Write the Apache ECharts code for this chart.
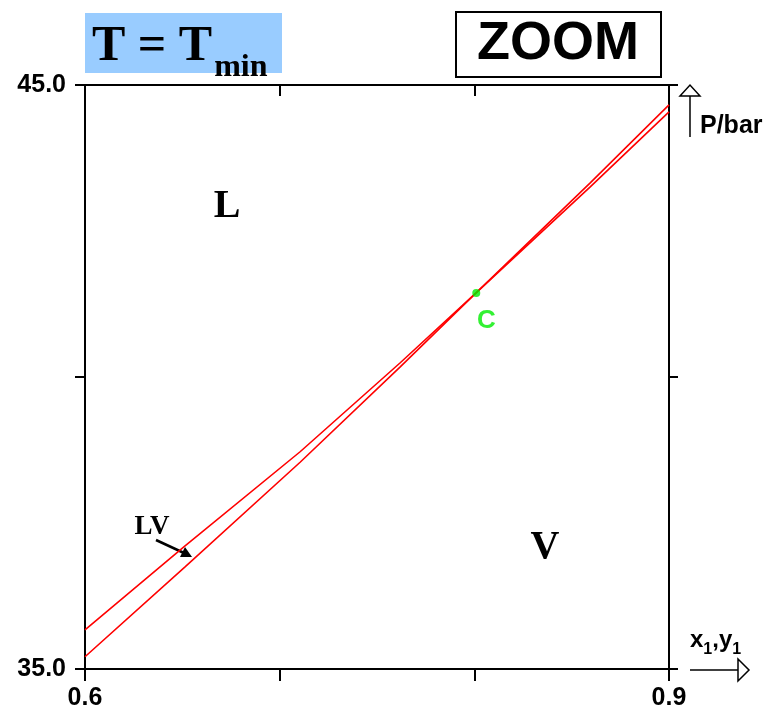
<!DOCTYPE html>
<html>
<head>
<meta charset="utf-8">
<script src="https://cdn.jsdelivr.net/npm/echarts@6/dist/echarts.min.js"></script>
<style>
  html, body { margin: 0; padding: 0; background: #fff; }
  #main { width: 768px; height: 713px; }
</style>
</head>
<body>
<div id="main"></div>
<script>
// upper branch (liquid side) and lower branch (vapour side)
const upperX = [0.600, 0.6514, 0.7105, 0.7618, 0.8009, 0.8594, 0.900]
const upperP = [35.67, 37.11, 38.72, 40.24, 41.44, 43.32, 44.66]
const lowerX = [0.600, 0.6514, 0.7105, 0.7618, 0.8009, 0.8594, 0.900]
const lowerP = [35.21, 36.75, 38.54, 40.17, 41.44, 43.25, 44.54]
const critical = [0.801, 41.44]
const xTickLabels = ['0.6', '0.9']
const yTickLabels = ['35.0', '45.0']

const chart = echarts.init(document.getElementById('main'))

const zip = (xs, ys) => xs.map((x, i) => [x, ys[i]])
const fmtX = (v) => {
    const s = v.toFixed(1)
    return xTickLabels.includes(s) ? s : ''
}
const fmtY = (v) => {
    const s = v.toFixed(1)
    return yTickLabels.includes(s) ? s : ''
}

const axisLine = { show: true, onZero: false, lineStyle: { color: '#000', width: 2 } }
const tickStyle = { color: '#000', width: 2 }
const labelFont = { color: '#000', fontFamily: 'Liberation Sans', fontWeight: 'bold', fontSize: 25 }

const option = {
    animation: false,
    backgroundColor: '#fff',
    grid: { left: 85, top: 85, right: 99, bottom: 44, containLabel: false },
    xAxis: [
        {
            type: 'value', position: 'bottom', min: 0.6, max: 0.9, interval: 0.1,
            axisLine: axisLine,
            axisTick: { show: true, inside: false, length: 12, lineStyle: tickStyle },
            axisLabel: Object.assign({ formatter: fmtX, margin: 17 }, labelFont),
            splitLine: { show: false }
        },
        {
            type: 'value', position: 'top', min: 0.6, max: 0.9, interval: 0.1,
            axisLine: axisLine,
            axisTick: { show: true, inside: true, length: 11, lineStyle: tickStyle },
            axisLabel: { show: false },
            splitLine: { show: false }
        }
    ],
    yAxis: [
        {
            type: 'value', position: 'left', min: 35, max: 45, interval: 5,
            axisLine: axisLine,
            axisTick: { show: true, inside: false, length: 10, lineStyle: tickStyle },
            axisLabel: Object.assign({ formatter: fmtY, margin: 19 }, labelFont),
            splitLine: { show: false }
        },
        {
            type: 'value', position: 'right', min: 35, max: 45, interval: 5,
            axisLine: axisLine,
            axisTick: { show: true, inside: false, length: 9, lineStyle: tickStyle },
            axisLabel: { show: false },
            splitLine: { show: false }
        }
    ],
    series: [
        {
            type: 'line', data: zip(upperX, upperP), showSymbol: false,
            lineStyle: { color: '#ff0000', width: 1.6 }
        },
        {
            type: 'line', data: zip(lowerX, lowerP), showSymbol: false,
            lineStyle: { color: '#ff0000', width: 1.6 }
        },
        {
            type: 'scatter', data: [critical], symbolSize: 8, z: 5,
            itemStyle: { color: '#00ee00' },
            label: {
                show: true, formatter: 'C', position: 'bottom', offset: [10, 6],
                color: '#00ee00', fontFamily: 'Liberation Sans', fontWeight: 'bold', fontSize: 26
            }
        }
    ],
    graphic: [
        // T = Tmin box
        { type: 'rect', shape: { x: 85, y: 13, width: 197, height: 60 }, style: { fill: '#99ccff' }, z: 1 },
        {
            type: 'text', x: 92, y: 22, z: 2,
            style: {
                text: '{a|T = T}{b|min}',
                rich: {
                    a: { fontFamily: 'Liberation Serif', fontWeight: 'bold', fontSize: 50, fill: '#000', verticalAlign: 'bottom' },
                    b: { fontFamily: 'Liberation Serif', fontWeight: 'bold', fontSize: 32, fill: '#000', padding: [0, 0, -12, 2], verticalAlign: 'bottom' }
                }
            }
        },
        // ZOOM box
        { type: 'rect', shape: { x: 456, y: 12, width: 205, height: 65 }, style: { fill: '#fff', stroke: '#000', lineWidth: 2 } },
        {
            type: 'text', x: 558, y: 44,
            style: { text: 'ZOOM', fontFamily: 'Liberation Sans', fontWeight: 'bold', fontSize: 54, fill: '#000', align: 'center', verticalAlign: 'middle' }
        },
        // region labels
        { type: 'text', x: 227, y: 207, style: { text: 'L', fontFamily: 'Liberation Serif', fontWeight: 'bold', fontSize: 40, fill: '#000', align: 'center', verticalAlign: 'middle' } },
        { type: 'text', x: 545, y: 548, style: { text: 'V', fontFamily: 'Liberation Serif', fontWeight: 'bold', fontSize: 40, fill: '#000', align: 'center', verticalAlign: 'middle' } },
        { type: 'text', x: 152, y: 527, style: { text: 'LV', fontFamily: 'Liberation Serif', fontWeight: 'bold', fontSize: 27, fill: '#000', align: 'center', verticalAlign: 'middle' } },
        { type: 'line', shape: { x1: 156, y1: 540, x2: 184, y2: 553 }, style: { stroke: '#000', lineWidth: 2.5 } },
        { type: 'polygon', shape: { points: [[192, 557], [180, 557], [185, 547]] }, style: { fill: '#000' } },
        // P/bar arrow
        { type: 'line', shape: { x1: 690, y1: 137, x2: 690, y2: 96 }, style: { stroke: '#000', lineWidth: 1.5 } },
        { type: 'polygon', shape: { points: [[680, 96], [700, 96], [690, 85]] }, style: { fill: '#fff', stroke: '#000', lineWidth: 1.5 } },
        { type: 'text', x: 700, y: 126, style: { text: 'P/bar', fontFamily: 'Liberation Sans', fontWeight: 'bold', fontSize: 25, fill: '#000', verticalAlign: 'middle' } },
        // x1,y1 arrow
        { type: 'line', shape: { x1: 690, y1: 670, x2: 738, y2: 670 }, style: { stroke: '#000', lineWidth: 1.5 } },
        { type: 'polygon', shape: { points: [[738, 659], [738, 681], [749, 670]] }, style: { fill: '#fff', stroke: '#000', lineWidth: 1.5 } },
        {
            type: 'text', x: 690, y: 628,
            style: {
                text: '{a|x}{b|1}{a|,y}{b|1}',
                rich: {
                    a: { fontFamily: 'Liberation Sans', fontWeight: 'bold', fontSize: 24, fill: '#000', verticalAlign: 'bottom' },
                    b: { fontFamily: 'Liberation Sans', fontWeight: 'bold', fontSize: 16, fill: '#000', padding: [0, 0, -6, 0], verticalAlign: 'bottom' }
                }
            }
        }
    ]
}

chart.setOption(option)
</script>
</body>
</html>
